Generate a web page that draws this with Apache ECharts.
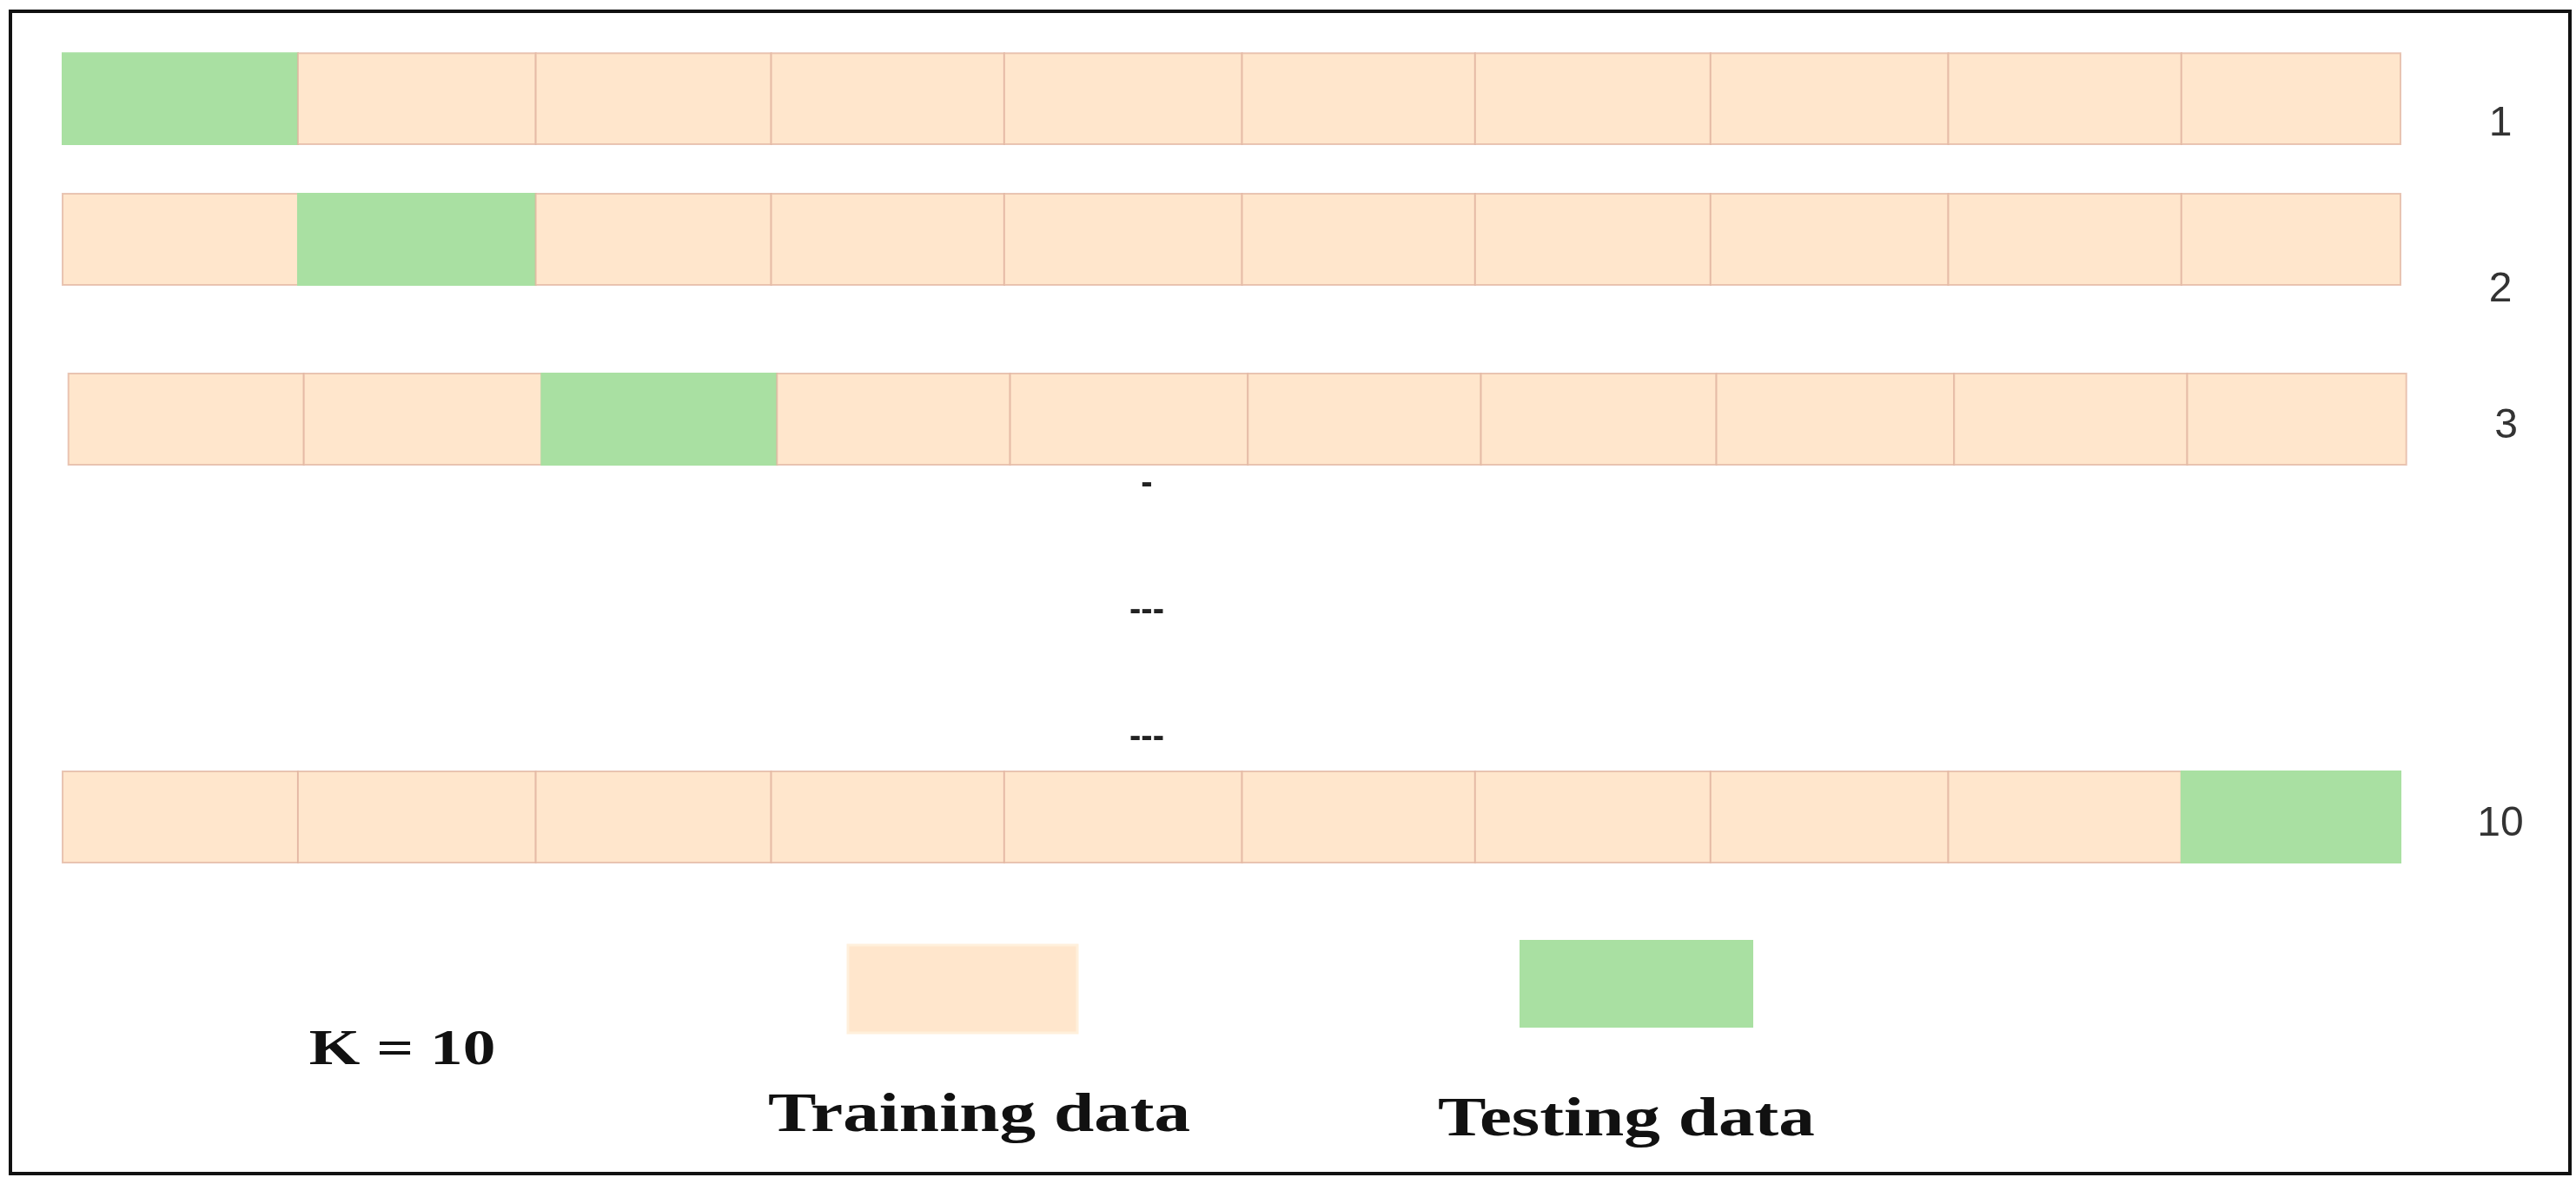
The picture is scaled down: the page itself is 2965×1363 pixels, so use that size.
<!DOCTYPE html>
<html><head><meta charset="utf-8">
<script src="https://cdn.jsdelivr.net/npm/echarts@6/dist/echarts.min.js"></script>
<style>html,body{margin:0;padding:0;background:#fff}#c{width:2965px;height:1363px}</style>
</head><body><div id="c"></div>
<script>
var foldLabels = ['1','2','3','10'];
var testFold = [0, 1, 2, 9];
var rowPos = [1.083, 2.628, 4.602, 8.97];
var rowShift = [0, 0, 0.025, 0];
var labelPos = [1.36, 3.18, 4.68, 9.05];
var cellWidths = [1.01, 1.02, 1.01, 1.0, 1.02, 1.0, 1.01, 1.02, 1.0, 0.94];
var dashLabels = ['-', '---', '---'];
var dashPos = [5.31, 6.7, 8.1];

var data = [];
rowPos.forEach(function (y, r) {
  var x0 = rowShift[r];
  cellWidths.forEach(function (w, i) {
    var last = i === cellWidths.length - 1;
    data.push([x0, x0 + w, y, i === testFold[r] ? 1 : 0, last ? foldLabels[r] : '', labelPos[r]]);
    x0 += w;
  });
});
var total = cellWidths.reduce(function (a, b) { return a + b; }, 0);

var serif = '"Liberation Serif", "Times New Roman", serif';
function stretched(text, x, y, size) {
  return { type: 'text', x: x, y: y, scaleX: 1.3, style: { text: text, x: 0, y: 0, align: 'center', verticalAlign: 'middle', font: 'bold ' + size + 'px ' + serif, fill: '#111' } };
}

var chart = echarts.init(document.getElementById('c'));
chart.setOption({
  animation: false,
  grid: { left: 72, right: 202, top: 0, bottom: 0 },
  xAxis: { type: 'value', min: 0, max: total, show: false },
  yAxis: { type: 'value', min: 0, max: 13, inverse: true, show: false },
  series: [{
    type: 'custom',
    data: data,
    renderItem: function (params, api) {
      var p0 = api.coord([api.value(0), api.value(2) - 0.5]);
      var p1 = api.coord([api.value(1), api.value(2) + 0.5]);
      var test = api.value(3) === 1;
      var children = [{
        type: 'rect',
        shape: { x: p0[0], y: p0[1], width: p1[0] - p0[0], height: p1[1] - p0[1] },
        style: { fill: test ? '#a9e0a2' : '#ffe6cc', stroke: test ? '#a9e0a2' : 'rgba(225,180,160,0.75)', lineWidth: 2 }
      }];
      var lab = api.value(4);
      if (lab) {
        var ly = api.coord([0, api.value(5)])[1];
        children.push({
          type: 'text',
          style: { text: lab, x: p1[0] + 115, y: ly, align: 'center', verticalAlign: 'middle',
            font: '48px "Liberation Sans", Arial, sans-serif', fill: '#333' }
        });
      }
      return { type: 'group', children: children };
    }
  }, {
    type: 'custom',
    data: dashLabels.map(function (t, i) { return [5.0, dashPos[i], t]; }),
    renderItem: function (params, api) {
      var p = api.coord([api.value(0), api.value(1)]);
      return { type: 'text', style: { text: api.value(2), x: 1320, y: p[1], align: 'center', verticalAlign: 'middle',
        font: 'bold 40px "Liberation Sans", Arial, sans-serif', fill: '#222' } };
    }
  }],
  graphic: [
    { type: 'rect', shape: { x: 12, y: 13, width: 2946, height: 1338 }, style: { fill: 'none', stroke: '#111', lineWidth: 4 } },
    { type: 'rect', shape: { x: 976, y: 1088, width: 264, height: 101 }, style: { fill: '#ffe6cc', stroke: '#fff0dc', lineWidth: 3 } },
    { type: 'rect', shape: { x: 1749, y: 1082, width: 269, height: 101 }, style: { fill: '#a9e0a2' } },
    stretched('K = 10', 463, 1210, 58),
    stretched('Training data', 1127, 1285, 64),
    stretched('Testing data', 1872, 1290, 64)
  ]
});
</script></body></html>
